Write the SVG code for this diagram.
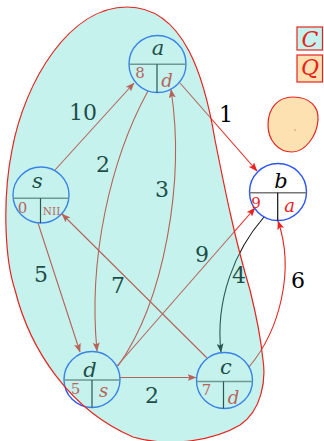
<svg xmlns="http://www.w3.org/2000/svg" width="324" height="441" viewBox="0 0 324 441">
<defs>
<marker id="ar" markerWidth="9" markerHeight="7" refX="8.5" refY="3.5" orient="auto" markerUnits="userSpaceOnUse"><path d="M0,0 L9,3.5 L0,7 L2,3.5 z" fill="#e8231f"/></marker>
<marker id="ak" markerWidth="9" markerHeight="7" refX="8.5" refY="3.5" orient="auto" markerUnits="userSpaceOnUse"><path d="M0,0 L9,3.5 L0,7 L2,3.5 z" fill="#111"/></marker>
</defs>
<style>
.e{fill:none;stroke:#e8231f;stroke-width:1.1}
.k{fill:none;stroke:#111;stroke-width:1.1}
.nc{fill:none;stroke:#2b55f5;stroke-width:1.4}
.hd{stroke:#777;stroke-width:1.4}
.vd{stroke:#111;stroke-width:1.2}
.lb{font-style:italic;font-size:21px;fill:#000;text-anchor:middle}
.sm{font-size:15px;fill:#e8231f;text-anchor:middle}
.sl{font-style:italic;font-size:18px;fill:#e8231f;text-anchor:middle}
.nil{font-size:10.5px;fill:#e8231f;text-anchor:middle}
.el{font-size:22px;fill:#000;text-anchor:middle}
.lg{font-style:italic;font-size:22px;fill:#e8231f;text-anchor:middle}
</style>
<g font-family="DejaVu Serif, serif">
<rect width="324" height="441" fill="#fff"/>
<g id="Q-region">
<path d="M293,97 C310,97 319,107 318,120 C317,136 305,152 292,152 C278,152 268,140 268,125 C268,108 278,97 293,97 Z" fill="#fde1b0" stroke="#e8231f" stroke-width="1.2"/>
<circle cx="295" cy="130" r="0.6" fill="#c0392b"/>
</g>
<g id="legend">
<rect x="297" y="27" width="25.5" height="23" fill="#c4f2ec" stroke="#e8231f" stroke-width="1.2"/>
<text class="lg" x="310" y="47">C</text>
<rect x="297" y="55" width="25.5" height="27" fill="#fde1b0" stroke="#e8231f" stroke-width="1.2"/>
<text class="lg" x="310" y="75">Q</text>
</g>
<g id="connectors">
<path class="e" d="M55,170 L134,83" marker-end="url(#ar)"/>
<path class="e" d="M180,83 L257,171" marker-end="url(#ar)"/>
<path class="e" d="M148,91 C110,160 88,260 97,351" marker-end="url(#ar)"/>
<path class="e" d="M118,366 C165,300 185,180 171,89.5" marker-end="url(#ar)"/>
<path class="e" d="M38,223 L80,352" marker-end="url(#ar)"/>
<path class="e" d="M207,358 L62,214" marker-end="url(#ar)"/>
<path class="e" d="M117,366 L255,208" marker-end="url(#ar)"/>
<path class="k" d="M264,217 C235,250 215,300 221,352" marker-end="url(#ak)"/>
<path class="e" d="M249,367 C280,330 295,270 278,221" marker-end="url(#ar)"/>
<path class="e" d="M120,377.5 L196,377.5" marker-end="url(#ar)"/>
<text class="el" x="83" y="120">10</text>
<text class="el" x="103" y="172">2</text>
<text class="el" x="162" y="197">3</text>
<text class="el" x="226" y="122">1</text>
<text class="el" x="41" y="282">5</text>
<text class="el" x="118" y="293">7</text>
<text class="el" x="202" y="262">9</text>
<text class="el" x="239" y="283">4</text>
<text class="el" x="298" y="288">6</text>
<text class="el" x="152" y="403">2</text>
</g>
<g id="node-a">
<circle class="nc" cx="157.5" cy="64" r="28.5"/>
<line class="hd" x1="129" y1="64.3" x2="186" y2="64.3"/>
<line class="vd" x1="157" y1="64.3" x2="157" y2="92.5"/>
<text class="lb" x="158" y="55">a</text>
<text class="sm" x="140" y="78">8</text>
<text class="sl" x="167" y="86.5">d</text>
</g>
<g id="node-s">
<circle class="nc" cx="41" cy="195" r="28"/>
<line class="hd" x1="13.2" y1="198.3" x2="68.8" y2="198.3"/>
<line class="vd" x1="40.5" y1="198.3" x2="40.5" y2="223"/>
<text class="lb" x="37.5" y="187.5">s</text>
<text class="sm" x="22.5" y="212.7">0</text>
<text class="nil" x="53" y="214.5">NIL</text>
</g>
<g id="node-b">
<circle class="nc" cx="278" cy="192" r="28.5"/>
<line class="hd" x1="249.5" y1="192.7" x2="306.5" y2="192.7"/>
<line class="vd" x1="277.7" y1="192.7" x2="277.7" y2="220.5"/>
<text class="lb" x="281" y="188">b</text>
<text class="sm" x="256" y="208.3">9</text>
<text class="sl" x="289.5" y="211.7">a</text>
</g>
<g id="node-d">
<circle class="nc" cx="92" cy="379.5" r="28"/>
<line class="hd" x1="64" y1="380" x2="120" y2="380"/>
<line class="vd" x1="92" y1="380" x2="92" y2="407.5"/>
<text class="lb" x="90" y="377">d</text>
<text class="sm" x="75.5" y="394">5</text>
<text class="sl" x="103.5" y="397.3">s</text>
</g>
<g id="node-c">
<circle class="nc" cx="224.5" cy="380.5" r="28"/>
<line class="hd" x1="196.5" y1="381.5" x2="252.5" y2="381.5"/>
<line class="vd" x1="223.5" y1="381.5" x2="223.5" y2="408.5"/>
<text class="lb" x="226" y="374">c</text>
<text class="sm" x="206.5" y="395">7</text>
<text class="sl" x="233.5" y="404">d</text>
</g>
<g id="C-region">
<path d="M127,7 C70,7 25,80 12,150 C2,200 5,260 15,290 C30,350 70,410 133,437 C170,448 215,440 240,425 C262,410 266,380 263,360 C260,330 255,310 250,290 C235,240 225,190 215,140 C205,80 185,7 127,7 Z" fill="rgb(89,218,201)" fill-opacity="0.35" stroke="#e8231f" stroke-width="1.2"/>
</g>
</g>
</svg>
